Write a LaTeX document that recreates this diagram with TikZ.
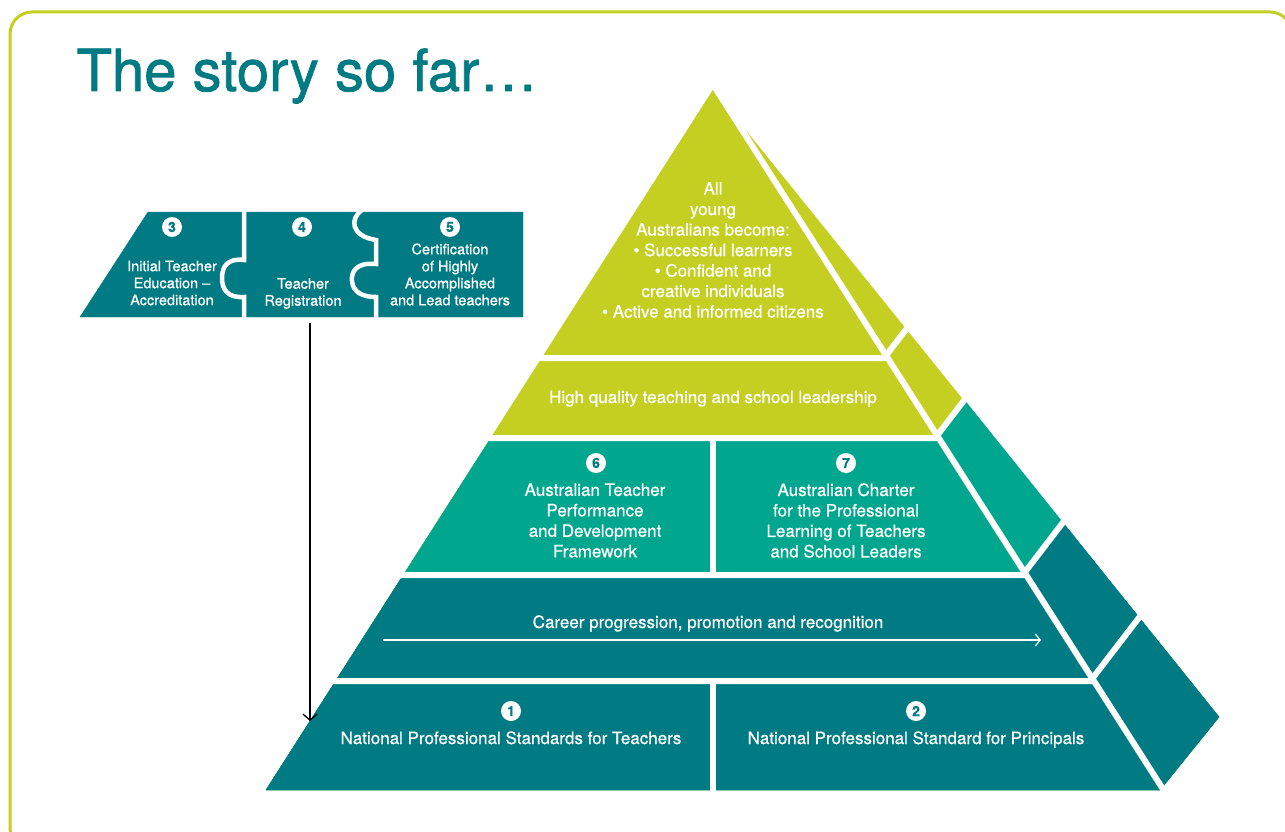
\documentclass[tikz,border=0pt]{standalone}
\usepackage{fontspec}
\setmainfont[FakeBold=0.6]{TeX Gyre Heros}
\newfontfamily\titlefont[FakeBold=1.2]{TeX Gyre Heros}
\usetikzlibrary{arrows.meta}
\definecolor{tl}{RGB}{0,122,131}
\definecolor{gr}{RGB}{0,167,142}
\definecolor{lm}{RGB}{196,207,34}
\tikzset{
  numdisc/.style={circle,fill=white,inner sep=0pt,minimum size=20pt,text=tl,font=\bfseries\fontsize{14}{14}\selectfont},
  tiertext/.style={text=white,align=center,font=\fontsize{17}{20.5}\selectfont},
  piecetext/.style={text=white,align=center,font=\fontsize{14.5}{17}\selectfont},
  whitegap/.style={white,line width=6pt},
  pieceseam/.style={white,line width=4.5pt}
}

\begin{document}
\begin{tikzpicture}[x=1pt,y=-1pt]
 	\useasboundingbox (0,0) rectangle (1285,832);
 	% frame and title
 	\draw [lm, line width=3pt, rounded corners=22pt] (10,12) rectangle (1292,850);
 	\node [anchor=base west, text=tl, font=\titlefont\fontsize{58}{58}\selectfont] (title) at (73,91) {The story so far…};

 	% puzzle pieces 3, 4, 5
 	\filldraw [tl] (148,212)--(523,212)--(523,317)--(80,317)--cycle;
 	\draw [pieceseam] (244,210)--(244,260) .. controls (228,258) and (222,266) .. (222,278) .. controls (222,290) and (228,298) .. (244,297)--(244,319);
 	\draw [pieceseam] (362,210) .. controls (350,218) and (350,236) .. (376,240)--(376,264) .. controls (356,262) and (351,272) .. (352,281) .. controls (353,292) and (362,297) .. (376,297)--(376,319);
 	\node [numdisc] (n3) at (172,227) {3};
 	\node [numdisc] (n4) at (302,227) {4};
 	\node [numdisc] (n5) at (450,227) {5};
 	\node [piecetext] (ite) at (172,283) {Initial Teacher\\Education –\\Accreditation};
 	\node [piecetext] (reg) at (303,293.5) {Teacher\\Registration};
 	\node [piecetext] (cert) at (450,274.5) {Certification\\of Highly\\Accomplished\\and Lead teachers};

 	% pyramid, front face
 	\filldraw [lm] (713,90)--(1160,790)--(266,790)--cycle;
 	\filldraw [gr] (490.8,438)--(935.2,438)--(1160,790)--(266,790)--cycle;
 	\filldraw [tl] (403.3,575)--(1022.7,575)--(1160,790)--(266,790)--cycle;
 	% pyramid, side face
 	\filldraw [lm] (713,90)--(1219,717)--(1160,790)--cycle;
 	\filldraw [gr] (935.2,438)--(964.4,400)--(1219,717)--(1160,790)--cycle;
 	\filldraw [tl] (1022.7,575)--(1062.9,522.6)--(1219,717)--(1160,790)--cycle;
 	% white gaps
 	\draw [whitegap] (715.5,88.4)--(1168.9,798.4);
 	\draw [whitegap] (534,358)--(884.1,358)--(922.5,308);
 	\draw [whitegap] (483,438)--(935.2,438)--(973.6,388);
 	\draw [whitegap] (395,575)--(1022.7,575)--(1068.7,515);
 	\draw [whitegap] (327,681)--(1090.4,681)--(1144.1,611);
 	\draw [whitegap] (713,436)--(713,577);
 	\draw [whitegap] (713,679)--(713,796);

 	% tier texts
 	\node [tiertext] (aim) at (713,250) {All\\young\\Australians become:\\• Successful learners\\• Confident and\\creative individuals\\• Active and informed citizens};
 	\node [tiertext, anchor=base] (hq) at (713,403) {High quality teaching and school leadership};
 	\node [numdisc] (n6) at (596,463) {6};
 	\node [tiertext] (perf) at (595,520.5) {Australian Teacher\\Performance\\and Development\\Framework};
 	\node [numdisc] (n7) at (846,463) {7};
 	\node [tiertext] (charter) at (846,520.5) {Australian Charter\\for the Professional\\Learning of Teachers\\and School Leaders};
 	\node [tiertext, anchor=base] (career) at (708,628) {Career progression, promotion and recognition};
 	\coordinate (cstart) at (383,640);
 	\coordinate (cend) at (1041,640);
 	\draw [white, line width=1.2pt, -{Straight Barb[length=5pt,width=12pt]}] (cstart)--(cend);
 	\node [numdisc] (n1) at (511,711) {1};
 	\node [tiertext, anchor=base] (nps) at (511,744) {National Professional Standards for Teachers};
 	\node [numdisc] (n2) at (916,711) {2};
 	\node [tiertext, anchor=base] (npp) at (916,744) {National Professional Standard for Principals};

 	% registration arrow
 	\coordinate (regtop) at (310,323);
 	\coordinate (regend) at (310,721);
 	\draw [black, line width=1.3pt, -{Straight Barb[length=6pt,width=14pt]}] (regtop)--(regend);
\end{tikzpicture}
\end{document}
